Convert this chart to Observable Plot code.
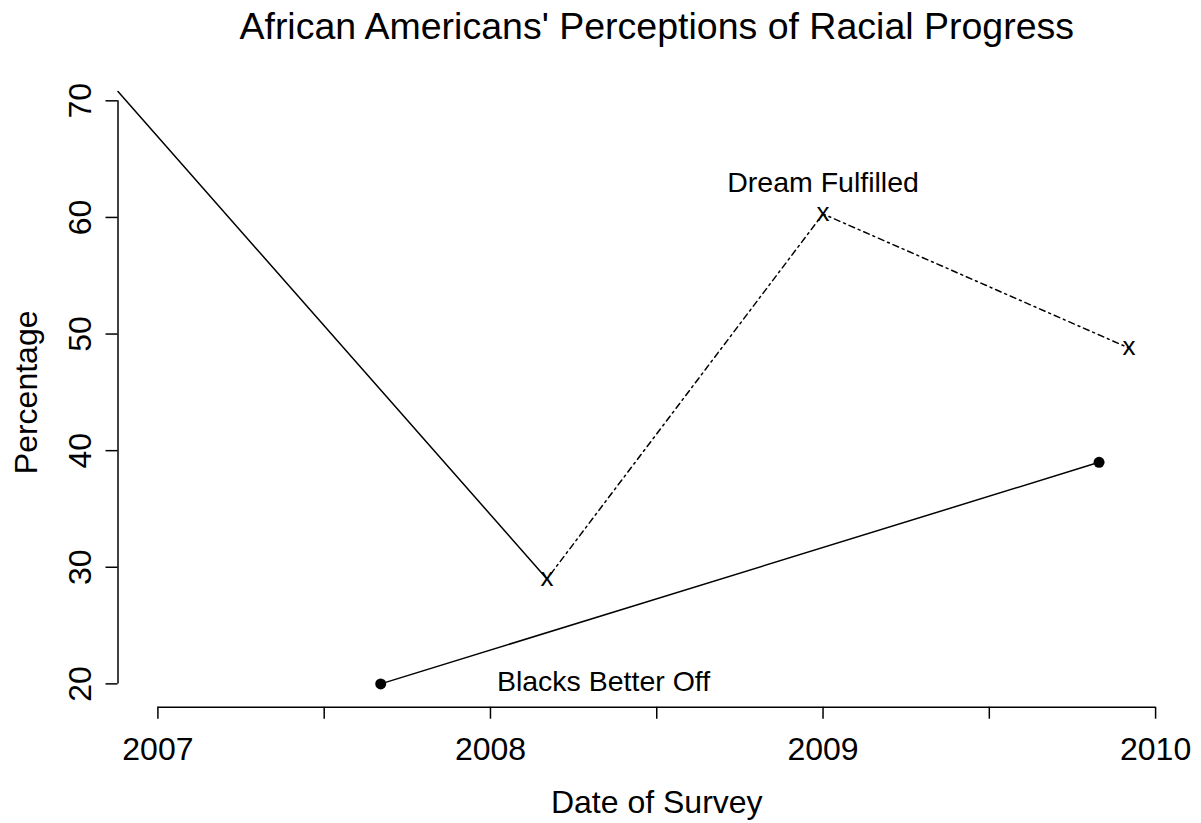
<!DOCTYPE html>
<html>
<head>
<meta charset="utf-8">
<script src="https://cdn.jsdelivr.net/npm/d3@7"></script>
<script src="https://cdn.jsdelivr.net/npm/@observablehq/plot@0.6"></script>
<style>
  html, body { margin: 0; padding: 0; background: #ffffff; }
  #chart svg { display: block; }
</style>
</head>
<body>
<div id="chart"></div>
<script>
// Survey dates as decimal years, values in percent
const dreamYears = [2008.17, 2009.0, 2009.92];
const dreamValues = [29, 60.3, 48.8];

// Earlier solid segment entering from the left edge, joining the first "Dream" survey
const leadYears = [2006.88, 2008.17];
const leadValues = [70.8, 29];

const betterOffYears = [2007.67, 2009.83];
const betterOffValues = [20, 39];

const xTicks = [2007, 2007.5, 2008, 2008.5, 2009, 2009.5, 2010];
const yTicks = [20, 30, 40, 50, 60, 70];

const titleText = "African Americans' Perceptions of Racial Progress";
const xLabel = "Date of Survey";
const yLabel = "Percentage";
const dreamLabel = "Dream Fulfilled";
const betterOffLabel = "Blacks Better Off";

// Axis limits padded by 4% on each side
const xLim = [2007, 2010];
const yLim = [20, 70];
const pad = (lim) => [lim[0] - 0.04 * (lim[1] - lim[0]), lim[1] + 0.04 * (lim[1] - lim[0])];
const xDomain = pad(xLim);
const yDomain = pad(yLim);

const toRows = (xs, ys) => xs.map((x, i) => ({year: x, pct: ys[i]}));
const dream = toRows(dreamYears, dreamValues);
const lead = toRows(leadYears, leadValues);
const betterOff = toRows(betterOffYears, betterOffValues);

const W = 1201, H = 823;
const mLeft = 117.5, mRight = 6, mTop = 77, mBottom = 116.3;
const frameBottom = H - mBottom;

const lw = 1.5;
const tickFont = 32;

const chart = Plot.plot({
  width: W,
  height: H,
  marginLeft: mLeft,
  marginRight: mRight,
  marginTop: mTop,
  marginBottom: mBottom,
  x: {domain: xDomain},
  y: {domain: yDomain},
  style: {
    fontFamily: "'Liberation Sans', Arial, Helvetica, sans-serif",
    background: "#ffffff",
    color: "#000000"
  },
  marks: [
    // x axis: line spanning first to last tick, ticks, integer year labels
    Plot.ruleY([yDomain[0]], {x1: xTicks[0], x2: xTicks[xTicks.length - 1], stroke: "#000", strokeWidth: lw}),
    Plot.axisX(xTicks, {
      anchor: "bottom",
      tickSize: 12,
      tickPadding: 18,
      fontSize: tickFont,
      strokeWidth: lw,
      label: null,
      tickFormat: d => Number.isInteger(d) ? String(d) : ""
    }),
    // y axis: line, ticks and rotated labels
    Plot.ruleX([xDomain[0]], {y1: yTicks[0], y2: yTicks[yTicks.length - 1], stroke: "#000", strokeWidth: lw}),
    Plot.axisY(yTicks, {
      anchor: "left",
      tickSize: 12,
      strokeWidth: lw,
      label: null,
      tickFormat: () => ""
    }),
    Plot.text(yTicks, {
      x: xDomain[0],
      y: d => d,
      text: d => String(d),
      rotate: -90,
      dx: -27,
      textAnchor: "middle",
      lineAnchor: "bottom",
      fontSize: tickFont
    }),

    // series
    Plot.line(lead, {x: "year", y: "pct", stroke: "#000", strokeWidth: lw}),
    Plot.line(dream, {x: "year", y: "pct", stroke: "#000", strokeWidth: lw, strokeDasharray: "2,4,6,4"}),
    Plot.text(dream, {x: "year", y: "pct", text: () => "x", fontSize: 26, lineAnchor: "middle", dy: -1.5}),
    Plot.line(betterOff, {x: "year", y: "pct", stroke: "#000", strokeWidth: lw}),
    Plot.dot(betterOff, {x: "year", y: "pct", r: 5.5, fill: "#000", stroke: "none"}),

    // series labels
    Plot.text([dreamLabel], {x: 2009, y: 63, text: d => d, fontSize: 28.5, lineAnchor: "middle"}),
    Plot.text([betterOffLabel], {x: 2008.34, y: 20.2, text: d => d, fontSize: 28.5, lineAnchor: "middle"}),

    // title and axis titles
    Plot.text([titleText], {frameAnchor: "top", text: d => d, dy: 38.5 - mTop, lineAnchor: "bottom", fontSize: 37.5}),
    Plot.text([xLabel], {frameAnchor: "bottom", text: d => d, dy: 812.5 - frameBottom, lineAnchor: "bottom", fontSize: tickFont}),
    Plot.text([yLabel], {frameAnchor: "left", text: d => d, rotate: -90, dx: 36 - mLeft, textAnchor: "middle", lineAnchor: "bottom", fontSize: tickFont})
  ]
});

document.getElementById("chart").appendChild(chart);
</script>
</body>
</html>
